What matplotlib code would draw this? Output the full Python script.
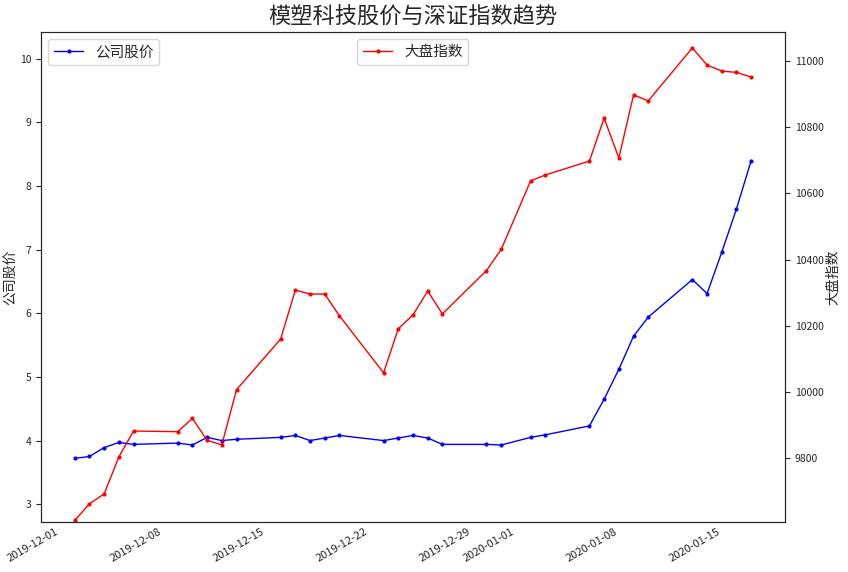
import matplotlib
matplotlib.use('Agg')
import matplotlib.pyplot as plt
import matplotlib.dates as mdates
import pandas as pd

plt.rcParams['font.family'] = ['Noto Sans CJK SC', 'DejaVu Sans']
plt.rcParams['axes.unicode_minus'] = False

# trading days
dates = pd.to_datetime([
    '2019-12-02', '2019-12-03', '2019-12-04', '2019-12-05', '2019-12-06',
    '2019-12-09', '2019-12-10', '2019-12-11', '2019-12-12', '2019-12-13',
    '2019-12-16', '2019-12-17', '2019-12-18', '2019-12-19', '2019-12-20',
    '2019-12-23', '2019-12-24', '2019-12-25', '2019-12-26', '2019-12-27',
    '2019-12-30', '2019-12-31', '2020-01-02', '2020-01-03', '2020-01-06',
    '2020-01-07', '2020-01-08', '2020-01-09', '2020-01-10', '2020-01-13',
    '2020-01-14', '2020-01-15', '2020-01-16', '2020-01-17'])

# 公司股价
stock = [3.72, 3.75, 3.89, 3.97, 3.94,
         3.96, 3.93, 4.05, 4.00, 4.02,
         4.05, 4.08, 4.00, 4.04, 4.08,
         4.00, 4.04, 4.08, 4.04, 3.94,
         3.94, 3.93, 4.05, 4.09, 4.23,
         4.65, 5.12, 5.64, 5.94, 6.53,
         6.31, 6.96, 7.64, 8.40]

# 大盘指数
index = [9612, 9662, 9692, 9804, 9882,
         9880, 9920, 9854, 9840, 10007,
         10160, 10308, 10296, 10296, 10230,
         10058, 10191, 10233, 10305, 10236,
         10367, 10431, 10638, 10656, 10698,
         10828, 10707, 10898, 10880, 11040,
         10988, 10970, 10966, 10952]

fig = plt.figure(figsize=(8.48, 5.72), dpi=100)
ax1 = fig.add_axes([0.0483, 0.0874, 0.8774, 0.8566])
ax2 = ax1.twinx()

ax1.plot(dates, stock, color='blue', marker='.', markersize=4, linewidth=1, label='公司股价')
ax2.plot(dates, index, color='red', marker='.', markersize=4, linewidth=1, label='大盘指数')

ax1.set_ylim(2.72, 10.42)
ax2.set_ylim(9607, 11088)

ax1.xaxis.set_major_locator(mdates.DayLocator(bymonthday=[1, 8, 15, 22, 29]))
ax1.xaxis.set_major_formatter(mdates.DateFormatter('%Y-%m-%d'))
for lab in ax1.get_xticklabels():
    lab.set_rotation(30)
    lab.set_horizontalalignment('right')

text_color = '#262626'
for ax in (ax1, ax2):
    ax.tick_params(axis='x', length=0, labelsize=8, colors=text_color)
    ax.tick_params(axis='y', length=3.5, width=0.8, labelsize=7.5, colors=text_color)
    for sp in ax.spines.values():
        sp.set_color(text_color)

ax1.set_ylabel('公司股价', fontsize=10, color=text_color)
ax2.set_ylabel('大盘指数', fontsize=10, color=text_color)
ax1.yaxis.set_label_coords(-0.031, 0.5)
ax2.yaxis.set_label_coords(1.055, 0.5)
ax1.set_title('模塑科技股价与深证指数趋势', fontsize=16, color=text_color)

ax1.legend(loc='upper left', fontsize=10.5, labelcolor=text_color)
ax2.legend(loc='upper center', fontsize=10.5, labelcolor=text_color)

fig.savefig('out.png', dpi=100)
